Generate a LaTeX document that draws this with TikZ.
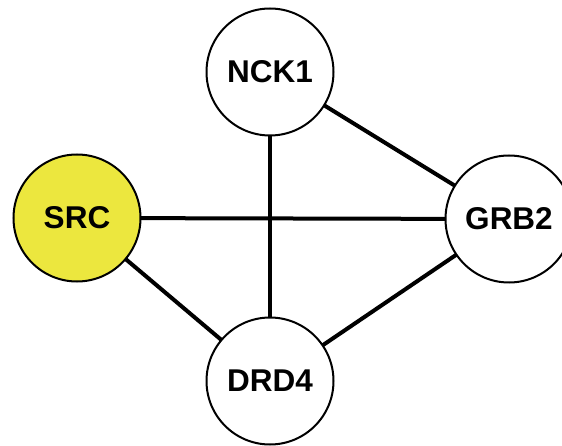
\documentclass[tikz,border=0pt]{standalone}
\usepackage{fontspec}
\setmainfont{Liberation Sans}
\definecolor{srcyellow}{RGB}{236,231,62}
\begin{document}
\begin{tikzpicture}[x=1pt,y=-1pt,
  gene/.style={circle, draw=black, line width=2pt, fill=white,
    minimum size=127pt, inner sep=0pt,
    font=\fontsize{31.5}{31.5}\selectfont\bfseries},
  link/.style={line width=4pt, black, shorten <=-1pt, shorten >=-1pt}]
  \useasboundingbox (0,0) rectangle (562,446);
  \clip (0,0) rectangle (562,446);
  % proteins
  \node[gene] (nck1) at (270,72) {NCK1};
  \node[gene, fill=srcyellow] (src) at (77,218) {SRC};
  \node[gene] (grb2) at (509,219) {GRB2};
  \node[gene] (drd4) at (270,381) {DRD4};
  % interactions
  \draw[link] (nck1) -- (drd4);
  \draw[link] (src) -- (grb2);
  \draw[link] (nck1) -- (grb2);
  \draw[link] (grb2) -- (drd4);
  \draw[link] (src) -- (drd4);
\end{tikzpicture}
\end{document}
